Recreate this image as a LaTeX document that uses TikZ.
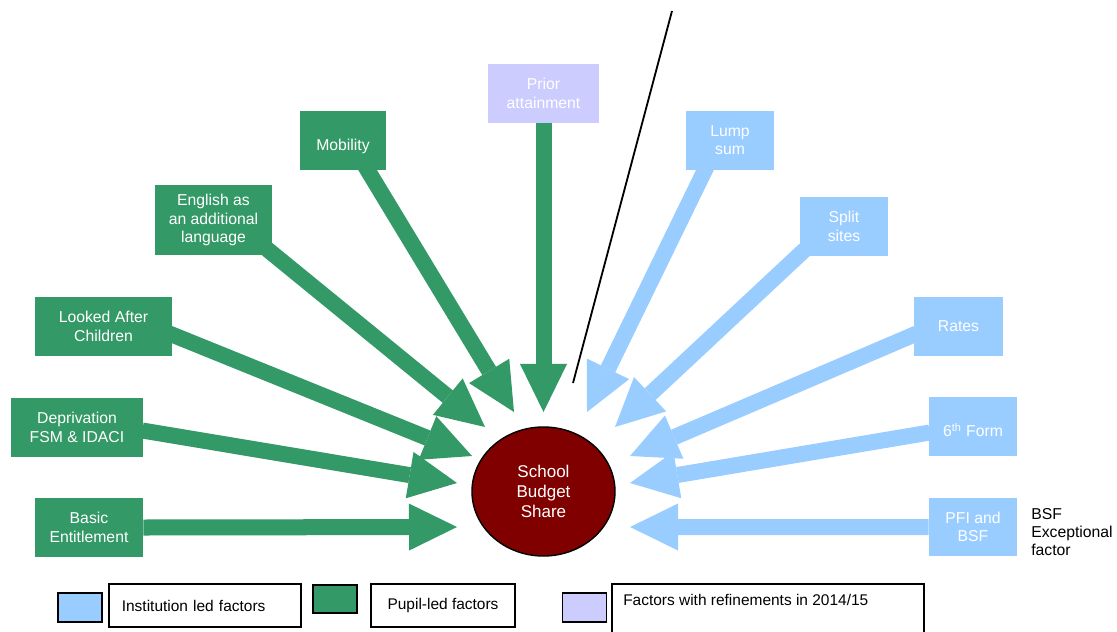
\documentclass[tikz,border=0pt]{standalone}
\usepackage{fontspec}
\setmainfont{Liberation Sans}
\usetikzlibrary{positioning,calc,shapes.geometric,arrows.meta}

\definecolor{pupilgreen}{HTML}{339966}
\definecolor{instblue}{HTML}{99CCFF}
\definecolor{refinelilac}{HTML}{CCCCFF}
\definecolor{budgetred}{HTML}{800000}

\tikzset{
	factor/.style={rectangle, inner sep=2pt, align=center, text=white, minimum height=1.45cm, font=\fontsize{11.2}{13}\selectfont},
	pupil/.style={factor, fill=pupilgreen},
	inst/.style={factor, fill=instblue},
	refined/.style={factor, fill=refinelilac},
	lowtext/.style={text height=0.6cm, text depth=0.08cm},
	fat/.style={line width=0.4cm, -{Triangle[width=1.175cm,length=1.2cm,line width=0pt]}},
	swatch/.style={draw=black, line width=1.4pt, minimum width=1.1cm, minimum height=0.725cm, inner sep=0pt},
	legbox/.style={draw=black, line width=1.2pt, minimum height=1.075cm, font=\fontsize{11}{13}\selectfont}
}

\begin{document}
\begin{tikzpicture}[x=0.025cm, y=-0.025cm]
	\useasboundingbox (0,0) rectangle (1117,631);

	\node[ellipse, draw=black, line width=1pt, fill=budgetred, minimum width=3.575cm, minimum height=3.225cm, inner sep=0pt, text=white, align=center, font=\fontsize{12.1}{14.2}\selectfont] (budget) at (543.5,491.5) {School\\Budget\\Share};

	% pupil-led factors
	\node[pupil, minimum width=2.7cm] (basic) at (89,527.5) {Basic\\Entitlement};
	\node[pupil, minimum width=3.3cm] (depriv) at (77,427.5) {Deprivation\\FSM \& IDACI};
	\node[pupil, minimum width=3.425cm] (lac) at (103.5,326.5) {Looked After\\Children};
	\node[pupil, minimum width=2.925cm, minimum height=1.75cm] (eal) at (213.5,220) {English as\\an additional\\language};
	\node[pupil, lowtext, minimum width=2.15cm] (mobility) at (343,140.5) {Mobility};
	\node[refined, minimum width=2.775cm] (prior) at (543.5,93.5) {Prior\\attainment};

	% institution led factors
	\node[inst, minimum width=2.2cm] (lump) at (730,140.5) {Lump\\sum};
	\node[inst, minimum width=2.2cm] (split) at (844,226.5) {Split\\sites};
	\node[inst, minimum width=2.225cm] (rates) at (958.5,326.5) {Rates};
	\node[inst, lowtext, minimum width=2.2cm] (sixth) at (973,426.5) {6\textsuperscript{th} Form};
	\node[inst, minimum width=2.2cm, below=1.05cm of sixth] (pfi) {PFI and\\BSF};
	\node[anchor=north west, align=left, inner sep=0pt, font=\fontsize{11.2}{12.8}\selectfont] (bsfnote) at (1031,508) {BSF\\Exceptional\\factor};

	\coordinate (tBasic) at ($(budget)+(-86.5,35.5)$);
	\coordinate (tDepriv) at ($(budget)+(-86.5,-8.5)$);
	\coordinate (tLac) at ($(budget)+(-71.5,-35.5)$);
	\coordinate (tEal) at ($(budget)+(-58.5,-64.5)$);
	\coordinate (tMobility) at ($(budget)+(-29.5,-79.5)$);
	\coordinate (tPrior) at ($(budget)+(0,-79.5)$);
	\coordinate (tLump) at ($(budget)+(43.5,-79.5)$);
	\coordinate (tSplit) at ($(budget)+(71.5,-64.5)$);
	\coordinate (tRates) at ($(budget)+(86.5,-35.5)$);
	\coordinate (tSixth) at ($(budget)+(86.5,-8.5)$);
	\coordinate (tPfi) at ($(budget)+(86.5,35.5)$);

	\draw[fat, pupilgreen] (basic.east) -- (tBasic);
	\draw[fat, pupilgreen] ([shift={(-1,3)}]depriv.east) -- (tDepriv);
	\draw[fat, pupilgreen] ([shift={(-3,7)}]lac.east) -- (tLac);
	\draw[fat, pupilgreen] ([shift={(-5,-6)}]eal.south east) -- (tEal);
	\draw[fat, pupilgreen] ([shift={(22,-4)}]mobility.south) -- (tMobility);
	\draw[fat, pupilgreen] (prior.south) -- (tPrior);

	\draw[fat, instblue] ([shift={(-23,-4)}]lump.south) -- (tLump);
	\draw[fat, instblue] ([shift={(5,-6)}]split.south west) -- (tSplit);
	\draw[fat, instblue] ([shift={(3,7)}]rates.west) -- (tRates);
	\draw[fat, instblue] ([shift={(1,6)}]sixth.west) -- (tSixth);
	\draw[fat, instblue] (pfi.west) -- (tPfi);

	\coordinate (slashTop) at (672,11);
	\coordinate (slashEnd) at (573,383);
	\draw[line width=1.3pt] (slashTop) -- (slashEnd);

	% key
	\node[swatch, fill=instblue] (keyInst) at (80,607.5) {};
	\node[legbox, right=0.125cm of keyInst, yshift=0.05cm, align=left, text width=4.15cm, inner xsep=0.325cm] (keyInstText) {Institution led factors};
	\node[swatch, fill=pupilgreen, minimum height=0.7cm] (keyPupil) at (335,599) {};
	\node[legbox, minimum width=3.6cm] (keyPupilText) at (443,605.5) {Pupil-led factors};
	\node[swatch, fill=refinelilac] (keyRefine) at (584.5,607.5) {};
	\node[legbox, minimum width=7.8cm, minimum height=1.6cm, anchor=north west] (keyRefineBox) at (611,583) {};
	\node[anchor=base west, inner sep=0pt, font=\fontsize{11}{13}\selectfont] (keyRefineText) at ([shift={(12,22)}]keyRefineBox.north west) {Factors with refinements in 2014/15};
\end{tikzpicture}
\end{document}
